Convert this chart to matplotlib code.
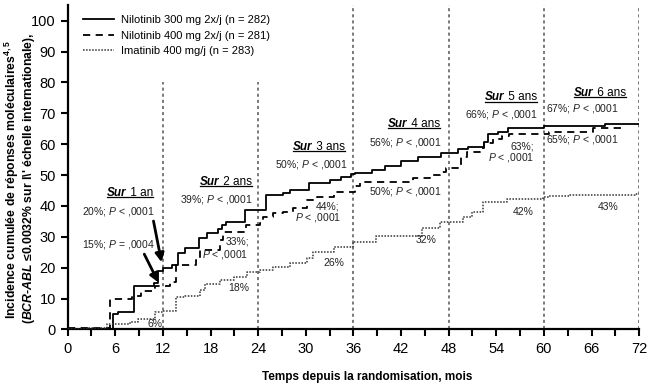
import matplotlib
matplotlib.use("Agg")
import matplotlib.pyplot as plt
from matplotlib.lines import Line2D

plt.rcParams['font.family'] = ['Liberation Sans', 'DejaVu Sans']
plt.rcParams['mathtext.fontset'] = 'custom'
plt.rcParams['mathtext.rm'] = 'Liberation Sans'
plt.rcParams['mathtext.it'] = 'Liberation Sans:italic'
plt.rcParams['mathtext.bf'] = 'Liberation Sans:bold'
plt.rcParams['mathtext.bfit'] = 'Liberation Sans:italic:bold'

#%% data

nilo300_months = [0, 5.7, 6.4, 8.3, 10.9, 11.4, 12.0, 13.1, 13.9, 14.8, 16.6, 17.5, 19.0, 19.4,
                  20.0, 22.3, 25.0, 27.1, 28.0, 30.4, 33.0, 34.5, 35.7, 36.2, 38.3, 40.0, 42.0,
                  44.1, 47.1, 49.2, 50.4, 52.5, 52.9, 54.2, 55.5, 60.0, 67.7, 72]
nilo300_pct = [0, 5.0, 5.8, 14.1, 15.0, 19.0, 20.0, 20.8, 24.7, 26.4, 29.6, 31.2, 32.5, 33.8,
               34.9, 38.7, 43.5, 44.3, 45.2, 47.4, 48.4, 49.5, 50.3, 50.6, 51.6, 52.8, 54.4,
               55.8, 57.3, 58.4, 59.2, 60.8, 63.3, 64.1, 65.2, 65.9, 66.5, 66.5]

nilo400_months = [0, 5.3, 8.1, 9.3, 11.0, 12.9, 13.7, 16.2, 16.7, 19.2, 19.6, 22.5, 24.2, 24.6,
                  25.9, 27.1, 28.4, 30.1, 31.4, 33.5, 36.2, 36.8, 43.5, 45.6, 46.9, 47.7, 49.6,
                  50.3, 51.9, 52.5, 53.6, 54.7, 55.6, 60.7, 66.2, 70.4]
nilo400_pct = [0.5, 9.8, 11.0, 12.5, 14.1, 15.5, 21.0, 22.5, 25.7, 29.0, 31.7, 33.8, 34.5, 36.5,
               37.6, 38.2, 39.3, 41.9, 43.0, 44.4, 46.3, 47.6, 49.0, 50.0, 51.1, 52.2, 56.0,
               57.6, 58.7, 60.3, 61.6, 62.5, 63.4, 64.1, 65.2, 65.2]

ima_months = [0, 2.4, 4.9, 7.8, 8.9, 11.0, 12.0, 13.7, 14.8, 16.7, 17.3, 19.2, 20.9, 22.6, 24.2,
              25.9, 28.0, 30.1, 30.9, 33.5, 36.0, 38.9, 44.6, 46.9, 49.8, 50.9, 52.3, 55.3,
              59.9, 60.7, 63.3, 71.5, 72]
ima_pct = [0.3, 0.6, 1.7, 2.5, 3.3, 5.8, 6.1, 10.6, 11.0, 12.8, 14.6, 16.0, 17.1, 18.7, 19.3,
           20.3, 21.6, 23.0, 25.0, 26.8, 28.4, 30.4, 32.8, 34.9, 36.5, 38.2, 41.4, 42.2,
           42.8, 43.3, 43.5, 43.9, 43.9]

series_labels = ['Nilotinib 300 mg 2x/j (n = 282)',
                 'Nilotinib 400 mg 2x/j (n = 281)',
                 'Imatinib 400 mg/j (n = 283)']

# landmark years: month, label, height of the dotted guide
landmark_months = [12, 24, 36, 48, 60, 72]
landmark_tops = [80, 80, 105, 105, 105, 105]
sur_labels = [' 1 an', ' 2 ans', ' 3 ans', ' 4 ans', ' 5 ans', ' 6 ans']
sur_pos = [(5.0, 44.2), (16.7, 47.8), (28.4, 59.2), (40.4, 66.6), (52.6, 75.2), (63.8, 76.7)]

# rate annotations: (text, x, y)
notes = [
    ('20%; $P$ < ,0001', 6.4, 38.2),
    ('15%; $P$ = ,0004', 6.4, 27.4),
    ('6%', 11.0, 1.7),
    ('39%; $P$ < ,0001', 18.8, 42.2),
    ('33%;', 21.4, 28.4),
    ('$P$ < ,0001', 19.9, 24.4),
    ('18%', 21.6, 13.3),
    ('50%; $P$ < ,0001', 30.7, 53.5),
    ('44%;', 32.8, 39.8),
    ('$P$ < ,0001', 31.6, 36.2),
    ('26%', 33.5, 21.6),
    ('56%; $P$ < ,0001', 42.5, 60.5),
    ('50%; $P$ < ,0001', 42.5, 44.6),
    ('32%', 45.2, 29.0),
    ('66%; $P$ < ,0001', 54.7, 69.5),
    ('63%;', 57.3, 59.2),
    ('$P$ < ,0001', 55.9, 55.6),
    ('42%', 57.4, 38.2),
    ('67%; $P$ < ,0001', 64.9, 71.6),
    ('65%; $P$ < ,0001', 64.9, 61.4),
    ('43%', 68.1, 39.8),
]

#%% plot

fig = plt.figure(figsize=(6.63, 3.87), dpi=100)
ax = fig.add_axes([0.102, 0.1486, 0.862, 0.838])

for m, top in zip(landmark_months, landmark_tops):
    ax.plot([m, m], [0, top], color='#555555', lw=1.1, ls=(0, (2, 2)), zorder=1)

ax.plot(nilo300_months, nilo300_pct, drawstyle='steps-post', color='black', lw=1.3,
        label=series_labels[0], zorder=3)
ax.plot(nilo400_months, nilo400_pct, drawstyle='steps-post', color='black', lw=1.3,
        ls=(0, (4, 3)), label=series_labels[1], zorder=3)
ax.plot(ima_months, ima_pct, drawstyle='steps-post', color='#333333', lw=1.1,
        ls=(0, (1, 1)), label=series_labels[2], zorder=3)

# arrows for year-1 rates
ax.annotate('', xy=(11.9, 20.9), xytext=(10.75, 36.0),
            arrowprops=dict(arrowstyle='-|>', lw=2, color='black', mutation_scale=13))
ax.annotate('', xy=(11.6, 14.4), xytext=(9.5, 25.2),
            arrowprops=dict(arrowstyle='-|>', lw=2, color='black', mutation_scale=13))

for txt, x, y in notes:
    ax.text(x, y, txt, fontsize=7.5, ha='center', va='center', color='#222222', zorder=4)

sur_pairs = []
for lab, (x, y) in zip(sur_labels, sur_pos):
    t1 = ax.text(x, y, 'Sur', fontsize=8.5, fontweight='bold', fontstyle='italic',
                 ha='left', va='center')
    t2 = ax.annotate(lab, xy=(1, 0), xycoords=t1, fontsize=8.5, ha='left', va='bottom')
    sur_pairs.append((t1, t2))

ax.set_xlim(0, 72)
ax.set_ylim(0, 105)
ax.set_xticks(range(0, 73, 6))
ax.set_xticks(range(0, 73, 3), minor=True)
ax.set_yticks(range(0, 101, 10))
ax.tick_params(axis='both', which='both', direction='out', length=5, width=1.5,
               labelsize=10.5)
ax.tick_params(axis='x', pad=4)
for s in ['top', 'right']:
    ax.spines[s].set_visible(False)
for s in ['left', 'bottom']:
    ax.spines[s].set_linewidth(1.6)

ax.legend(loc='upper left', bbox_to_anchor=(0.01, 1.0), frameon=False, fontsize=8,
          handlelength=2.8, handletextpad=0.6, labelspacing=0.5)

fig.text(0.554, 0.026, 'Temps depuis la randomisation, mois', fontsize=8.5,
         fontweight='bold', ha='center', va='center')
fig.text(0.018, 0.535, r'Incidence cumulée de réponses moléculaires$^{\mathbf{4,5}}$',
         fontsize=8.8, fontweight='bold', rotation=90, ha='center', va='center')
fig.text(0.043, 0.54, r'($\mathbfit{BCR}$-$\mathbfit{ABL}$ ≤0.0032% sur l\' échelle internationale),',
         fontsize=8.8, fontweight='bold', rotation=90, ha='center', va='center')

# underline the "Sur x ans" headings
fig.canvas.draw()
r = fig.canvas.get_renderer()
inv = fig.transFigure.inverted()
for t1, t2 in sur_pairs:
    b1 = t1.get_window_extent(r)
    b2 = t2.get_window_extent(r)
    (x0, y0), (x1, _) = inv.transform([(b1.x0, b1.y0 + 1.5), (b2.x1, b1.y0 + 1.5)])
    fig.add_artist(Line2D([x0, x1], [y0, y0], color='black', lw=0.9,
                          transform=fig.transFigure))

fig.savefig('out.png', dpi=100)
